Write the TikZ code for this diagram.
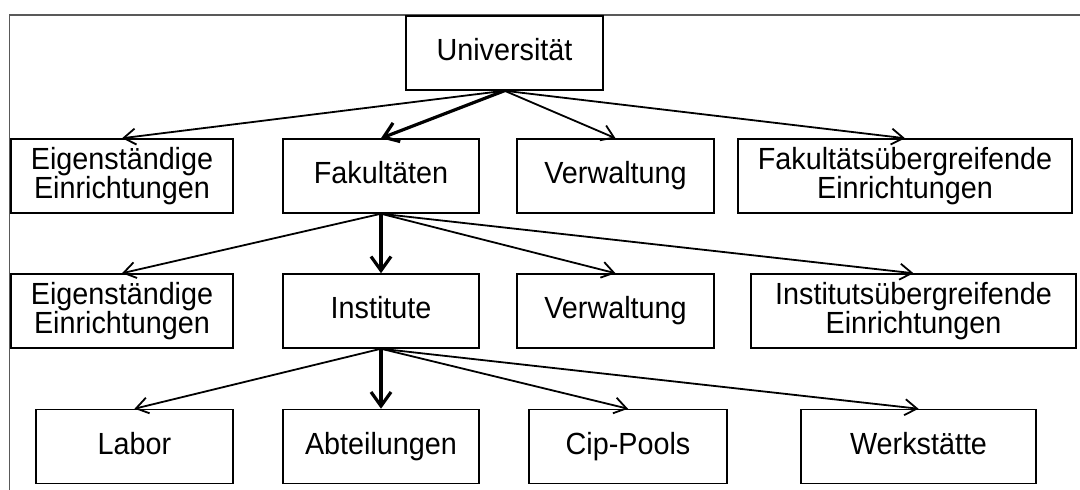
\documentclass[tikz,border=0pt]{standalone}
\usepackage{fontspec}
\setmainfont{Liberation Sans}[FakeStretch=0.94]
\usetikzlibrary{arrows.meta}

\begin{document}
\begin{tikzpicture}[
	x=0.5pt, y=-0.5pt,
	box/.style={rectangle, draw, line width=0.75pt, minimum height=37pt,
		text centered, align=center, inner sep=1pt,
		font=\fontsize{15.3}{14.4}\selectfont},
	single/.style={box, text height=11.2pt, text depth=3.3pt},
	link/.style={line width=0.9pt, -{Straight Barb[length=6pt,width=8pt]}},
	mainlink/.style={line width=1.6pt, -{Straight Barb[length=7pt,width=10pt]}},
	frame/.style={draw=black!65, line width=0.8pt}
	]
	\useasboundingbox (0,0) rectangle (1080,490);
	\draw[frame] (9.5,490) -- (9.5,15) -- (1080,15);
	
	\node (u) [single, minimum width=98.5pt] at (504.5,53) {Universität};
	
	\node (u1) [box, minimum width=111pt] at (122,176) {Eigenständige\\Einrichtungen};
	\node (u2) [single, minimum width=98pt] at (381,176) {Fakultäten};
	\node (u3) [single, minimum width=98.5pt] at (615.5,176) {Verwaltung};
	\node (u4) [box, minimum width=167pt] at (905,176) {Fakultätsübergreifende\\Einrichtungen};
	
	\node (u21) [box, minimum width=111pt] at (122,311) {Eigenständige\\Einrichtungen};
	\node (u22) [single, minimum width=98pt] at (381,311) {Institute};
	\node (u23) [single, minimum width=98.5pt] at (615.5,311) {Verwaltung};
	\node (u24) [box, minimum width=162.5pt] at (913.5,311) {Institutsübergreifende\\Einrichtungen};
	
	\node (u221) [single, minimum width=98.5pt] at (134.5,446.5) {Labor};
	\node (u222) [single, minimum width=98pt] at (381,446.5) {Abteilungen};
	\node (u223) [single, minimum width=99pt] at (628,446.5) {Cip-Pools};
	\node (u224) [single, minimum width=117.5pt] at (918.5,446.5) {Werkstätte};
	
	\draw[link] (u.south) -- (u1.north);
	\draw[mainlink] (u.south) -- (u2.north);
	\draw[link] (u.south) -- (u3.north);
	\draw[link] (u.south) -- (u4.north);
	
	\draw[link] (u2.south) -- (u21.north);
	\draw[mainlink] (u2.south) -- (u22.north);
	\draw[link] (u2.south) -- (u23.north);
	\draw[link] (u2.south) -- (u24.north);
	
	\draw[link] (u22.south) -- (u221.north);
	\draw[mainlink] (u22.south) -- (u222.north);
	\draw[link] (u22.south) -- (u223.north);
	\draw[link] (u22.south) -- (u224.north);
\end{tikzpicture}
\end{document}
